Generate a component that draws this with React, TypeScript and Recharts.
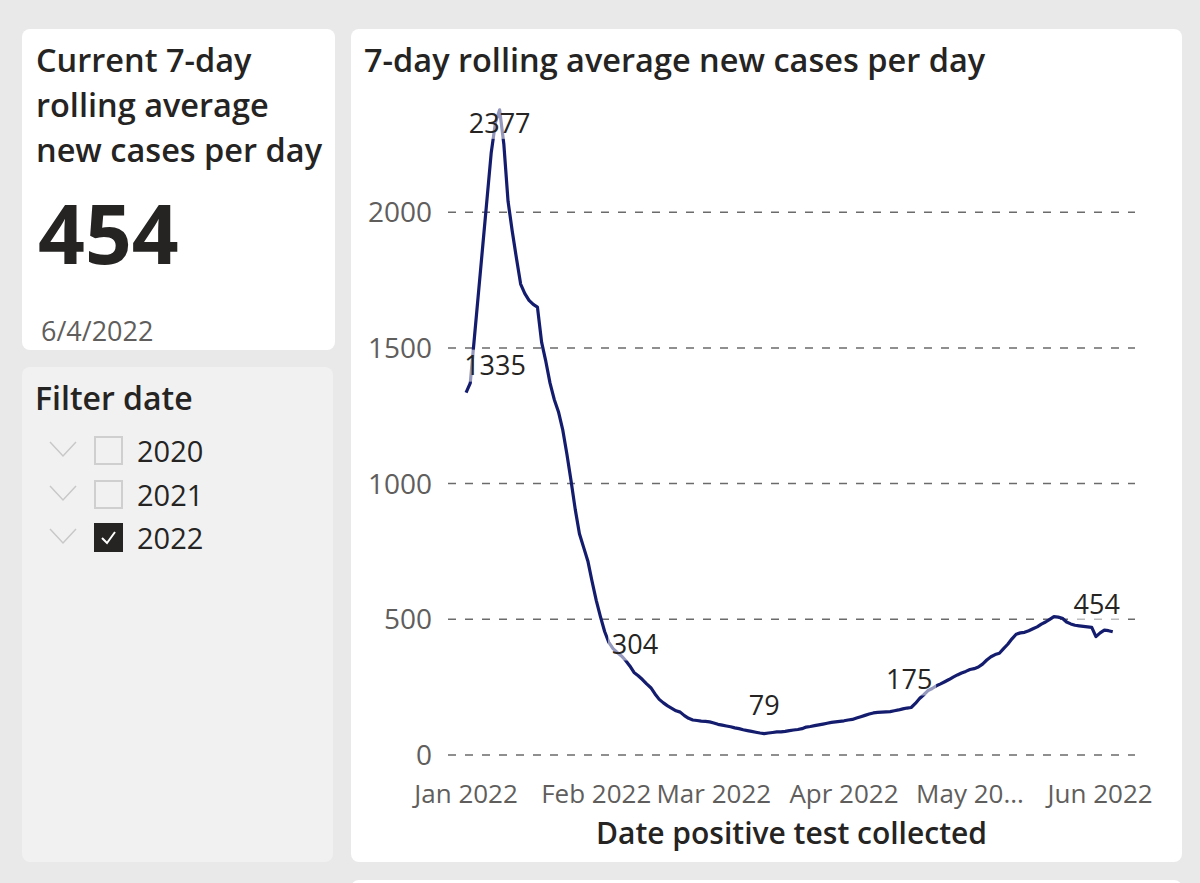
import React from 'react';
import { LineChart, Line, XAxis, YAxis, ReferenceLine } from 'recharts';

// 7-day rolling average new cases per day, one value per day starting 1 Jan 2022
const cases: number[] = [
  1335, 1370, 1540, 1710, 1880, 2050, 2220, 2330, 2377, 2250,
  2040, 1930, 1830, 1735, 1700, 1675, 1660, 1650, 1520, 1450,
  1370, 1310, 1265, 1200, 1110, 1010, 905, 815, 765, 715,
  640, 570, 510, 455, 415, 392, 378, 365, 348, 328,
  304, 292, 278, 262, 248, 225, 205, 192, 181, 172,
  163, 158, 145, 135, 129, 127, 125, 124, 122, 118,
  113, 110, 107, 104, 100, 97, 93, 90, 87, 84,
  81, 79, 81, 83, 85, 85, 87, 90, 92, 94,
  97, 103, 105, 108, 111, 114, 117, 120, 122, 124,
  126, 129, 131, 136, 141, 146, 151, 155, 157, 158,
  159, 160, 163, 166, 170, 173, 175, 190, 208, 222,
  237, 245, 255, 262, 270, 278, 287, 295, 302, 308,
  315, 318, 324, 335, 350, 362, 370, 375, 392, 408,
  428, 445, 450, 452, 458, 465, 472, 482, 490, 500,
  510, 508, 504, 490, 483, 478, 476, 474, 472, 470,
  436, 450, 460, 458, 454,
];

// day index (days since 1 Jan 2022) of month starts and their labels
const monthTicks: number[] = [0, 31, 59, 90, 120, 151];
const monthLabels: string[] = ['Jan 2022', 'Feb 2022', 'Mar 2022', 'Apr 2022', 'May 20...', 'Jun 2022'];
const yTicks: number[] = [0, 500, 1000, 1500, 2000];
const labeledDays: number[] = [0, 8, 40, 71, 106, 154];
const filterYears: string[] = ['2020', '2021', '2022'];
const checkedYears: string[] = ['2022'];
const currentValue = '454';
const currentDate = '6/4/2022';

// label placement tweaks (style only)
const labelShift: Record<number, { dx: number; dy: number }> = {
  0: { dx: 29, dy: -27 },
  8: { dx: 0, dy: 13 },
  40: { dx: 1, dy: -28 },
  71: { dx: 0, dy: -28 },
  106: { dx: -2, dy: -28 },
  154: { dx: -16, dy: -27 },
};

const data = cases.map((v, i) => ({ day: i, cases: v }));

const FONT = '"Open Sans", "Noto Sans", sans-serif';
const DARK = '#252423';
const GREY = '#605e5c';
const LINE = '#141c6e';

const renderDot = (props: any) => {
  const { cx, cy, payload, index } = props;
  const day = payload ? payload.day : index;
  if (!labeledDays.includes(day)) return <g key={`d-${index}`} />;
  const s = labelShift[day] || { dx: 0, dy: -28 };
  const x = cx + s.dx;
  const y = cy + s.dy;
  const txt = String(payload.cases);
  const w = txt.length * 16 + 6;
  return (
    <g key={`d-${index}`}>
      <rect x={x - w / 2} y={y - 16} width={w} height={32} fill="#ffffff" fillOpacity={0.55} />
      <text x={x} y={y} dy="0.36em" textAnchor="middle" fontSize={27} fill={DARK} fontFamily={FONT}>
        {txt}
      </text>
    </g>
  );
};

const Chevron = () => (
  <svg width={30} height={18} style={{ position: 'absolute', left: 27, top: -10 }}>
    <polyline points="1,1 14,15 27,1" fill="none" stroke="#c8c8c8" strokeWidth={1.5} />
  </svg>
);

const CheckBox = ({ checked }: { checked: boolean }) => (
  <div
    style={{
      position: 'absolute',
      left: 72,
      top: -15,
      width: 29,
      height: 29,
      boxSizing: 'border-box',
      border: checked ? '2px solid #252423' : '2px solid #cfcfcf',
      background: checked ? '#252423' : 'transparent',
    }}
  >
    {checked && (
      <svg width={25} height={25} style={{ position: 'absolute', left: 0, top: 0 }}>
        <polyline points="6,13 11,18 19,7" fill="none" stroke="#ffffff" strokeWidth={2} />
      </svg>
    )}
  </div>
);

export default function App() {
  return (
    <div
      style={{
        position: 'absolute',
        left: 0,
        top: 0,
        width: 1200,
        height: 883,
        background: '#e9e9e9',
        overflow: 'hidden',
        fontFamily: FONT,
      }}
    >
      {/* KPI card */}
      <div style={{ position: 'absolute', left: 22, top: 29, width: 313, height: 321, background: '#ffffff', borderRadius: 8 }}>
        <div
          style={{
            position: 'absolute',
            left: 14,
            top: 8,
            width: 300,
            fontSize: 32.5,
            lineHeight: '45px',
            fontWeight: 600,
            color: DARK,
            whiteSpace: 'nowrap',
          }}
        >
          Current 7-day
          <br />
          rolling average
          <br />
          new cases per day
        </div>
        <div style={{ position: 'absolute', left: 16, top: 163, fontSize: 82, lineHeight: '80px', fontWeight: 700, color: DARK }}>
          {currentValue}
        </div>
        <div style={{ position: 'absolute', left: 19, top: 289, fontSize: 27, lineHeight: '26px', color: GREY }}>
          {currentDate}
        </div>
      </div>

      {/* Filter card */}
      <div style={{ position: 'absolute', left: 22, top: 367, width: 311, height: 495, background: '#f1f1f1', borderRadius: 8 }}>
        <div style={{ position: 'absolute', left: 13, top: 15, fontSize: 32, lineHeight: '32px', fontWeight: 600, color: DARK }}>
          Filter date
        </div>
        {filterYears.map((yr, i) => (
          <div key={yr} style={{ position: 'absolute', left: 0, top: 84 + i * 43.5, width: 300, height: 0 }}>
            <Chevron />
            <CheckBox checked={checkedYears.includes(yr)} />
            <div style={{ position: 'absolute', left: 115, top: -20, fontSize: 29, lineHeight: '40px', color: DARK }}>{yr}</div>
          </div>
        ))}
      </div>

      {/* Chart card */}
      <div style={{ position: 'absolute', left: 351, top: 29, width: 831, height: 833, background: '#ffffff', borderRadius: 8 }}>
        <div
          style={{
            position: 'absolute',
            left: 13,
            top: 8,
            fontSize: 32.5,
            lineHeight: '45px',
            fontWeight: 600,
            color: DARK,
            whiteSpace: 'nowrap',
          }}
        >
          7-day rolling average new cases per day
        </div>
        <div style={{ position: 'absolute', left: 0, top: 0 }}>
          <LineChart width={831} height={833} data={data} margin={{ top: 74.6, right: 47, bottom: 0, left: 0 }}>
            <XAxis
              dataKey="day"
              type="number"
              domain={[-4.3, 159.3]}
              ticks={monthTicks}
              interval={0}
              tickFormatter={(v: number) => monthLabels[monthTicks.indexOf(v)] ?? ''}
              axisLine={false}
              tickLine={false}
              tickSize={0}
              tickMargin={30}
              height={107}
              tick={{ fontSize: 26, fill: GREY, fontFamily: FONT }}
            />
            <YAxis
              domain={[0, 2400]}
              ticks={yTicks}
              interval={0}
              axisLine={false}
              tickLine={false}
              tickSize={0}
              tickMargin={16}
              width={97}
              tick={{ fontSize: 28, fill: GREY, fontFamily: FONT }}
            />
            {yTicks.map((v) => (
              <ReferenceLine key={`g-${v}`} y={v} stroke="#6b6b6b" strokeWidth={1.5} strokeDasharray="8 9" />
            ))}
            <Line
              type="linear"
              dataKey="cases"
              stroke={LINE}
              strokeWidth={3.2}
              strokeLinejoin="round"
              dot={renderDot}
              activeDot={false}
              isAnimationActive={false}
            />
          </LineChart>
        </div>
        <div
          style={{
            position: 'absolute',
            left: 97,
            width: 687,
            top: 786,
            textAlign: 'center',
            fontSize: 30,
            lineHeight: '36px',
            fontWeight: 600,
            color: DARK,
            whiteSpace: 'nowrap',
          }}
        >
          Date positive test collected
        </div>
      </div>

      {/* next card peeking at bottom */}
      <div style={{ position: 'absolute', left: 351, top: 880, width: 831, height: 40, background: '#ffffff', borderRadius: 8 }} />
    </div>
  );
}
